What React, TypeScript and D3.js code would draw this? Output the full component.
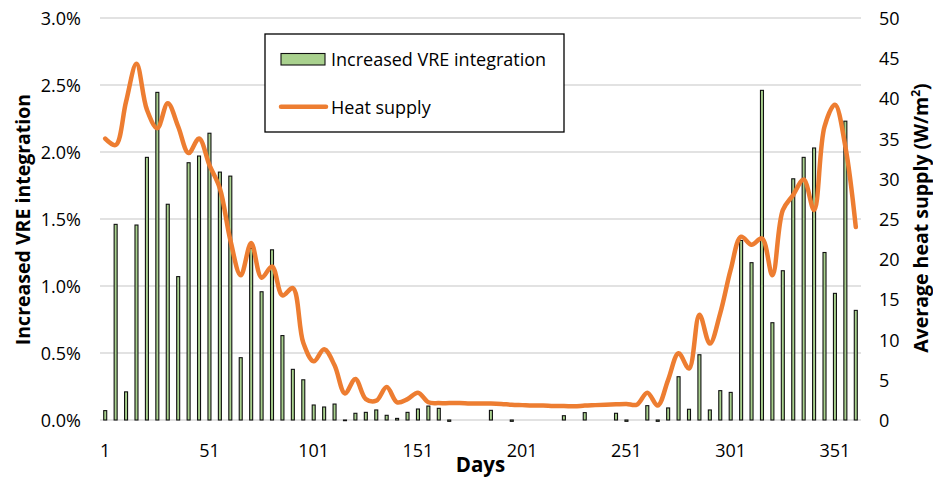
import React from "react";
import * as d3 from "d3";

const days: number[] = [
  1, 6, 11, 16, 21, 26, 31, 36, 41, 46, 51, 56, 61, 66, 71, 76, 81, 86, 91, 96,
  101, 106, 111, 116, 121, 126, 131, 136, 141, 146, 151, 156, 161, 166, 171, 176, 181, 186, 191, 196,
  201, 206, 211, 216, 221, 226, 231, 236, 241, 246, 251, 256, 261, 266, 271, 276, 281, 286, 291, 296,
  301, 306, 311, 316, 321, 326, 331, 336, 341, 346, 351, 356, 361,
];

// Increased VRE integration (%)
const vreIntegration: number[] = [
  0.07, 1.46, 0.21, 1.455, 1.96, 2.445, 1.61, 1.07, 1.92, 1.97,
  2.14, 1.85, 1.82, 0.465, 1.28, 0.957, 1.27, 0.63, 0.378, 0.3,
  0.112, 0.097, 0.119, -0.005, 0.05, 0.057, 0.075, 0.035, 0.012, 0.057,
  0.082, 0.104, 0.087, -0.01, 0, 0, 0, 0.072, 0, -0.01,
  0, 0, 0, 0, 0.032, 0, 0.055, 0, 0, 0.05,
  -0.01, 0, 0.107, -0.01, 0.09, 0.323, 0.08, 0.487, 0.075, 0.219,
  0.206, 1.34, 1.174, 2.46, 0.726, 1.114, 1.8, 1.96, 2.03, 1.25,
  0.945, 2.23, 0.818,
];

// Average heat supply (W/m²)
const heatSupply: number[] = [
  35.0, 34.2, 39.6, 44.3, 38.6, 36.3, 39.4, 36.5, 33.2, 35.0,
  31.7, 28.8, 22.4, 18.0, 22.0, 17.7, 19.1, 15.5, 16.4, 9.6,
  7.3, 8.8, 6.8, 3.3, 5.1, 2.6, 2.4, 4.1, 2.2, 2.6,
  3.4, 2.2, 2.1, 2.1, 2.1, 2.05, 2.05, 2.05, 2.0, 1.9,
  1.85, 1.8, 1.8, 1.75, 1.75, 1.7, 1.8, 1.85, 1.9, 1.95,
  2.0, 1.9, 3.4, 1.8, 5.0, 8.3, 6.4, 13.1, 9.5, 13.3,
  18.7, 22.8, 21.8, 22.6, 18.0, 26.1, 28.0, 29.9, 26.1, 36.5,
  39.2, 34.0, 24.0,
];

const xTickLabels: string[] = ["1", "51", "101", "151", "201", "251", "301", "351"];
const leftTicks: number[] = [0, 0.5, 1.0, 1.5, 2.0, 2.5, 3.0];
const rightTicks: number[] = [0, 5, 10, 15, 20, 25, 30, 35, 40, 45, 50];

const seriesNames: string[] = ["Increased VRE integration", "Heat supply"];
const axisTitles = { x: "Days", left: "Increased VRE integration", right: "Average heat supply (W/m" };

const W = 933;
const H = 485;
const M = { left: 100, right: 72, top: 18, bottom: 65 };
const FONT = "'Open Sans', 'Noto Sans', sans-serif";
const GREEN = "#a9d18e";
const ORANGE = "#ed7d31";

export default function App() {
  const x = d3
    .scaleBand<string>()
    .domain(days.map(String))
    .range([M.left, W - M.right])
    .paddingInner(0)
    .paddingOuter(0);
  const yL = d3.scaleLinear().domain([0, 3]).range([H - M.bottom, M.top]);
  const yR = d3.scaleLinear().domain([0, 50]).range([H - M.bottom, M.top]);
  const cx = (d: number) => (x(String(d)) as number) + x.bandwidth() / 2;

  const line = d3
    .line<number>()
    .x((_, i) => cx(days[i]))
    .y((v) => yR(v))
    .curve(d3.curveCatmullRom.alpha(0.5));

  const barW = 3;
  const fs = 18;
  const titleFs = 19.5;

  return (
    <svg
      width={W}
      height={H}
      style={{ position: "absolute", left: 0, top: 0, background: "#fff" }}
      fontFamily={FONT}
    >
      {leftTicks.map((t) => (
        <line
          key={"g" + t}
          x1={M.left}
          x2={W - M.right}
          y1={yL(t)}
          y2={yL(t)}
          stroke="#d9d9d9"
          strokeWidth={1.3}
        />
      ))}
      {vreIntegration.map((v, i) =>
        v === 0 ? null : (
          <rect
            key={"b" + i}
            x={cx(days[i]) - barW / 2}
            y={Math.min(yL(v), yL(0))}
            width={barW}
            height={Math.abs(yL(v) - yL(0))}
            fill={GREEN}
            stroke="#111"
            strokeWidth={1.1}
          />
        )
      )}
      <path
        d={line(heatSupply) || ""}
        fill="none"
        stroke={ORANGE}
        strokeWidth={4.5}
        strokeLinejoin="round"
        strokeLinecap="round"
      />
      {leftTicks.map((t) => (
        <text
          key={"l" + t}
          x={81}
          y={yL(t)}
          textAnchor="end"
          dominantBaseline="central"
          fontSize={fs}
          fill="#000"
        >
          {d3.format(".1%")(t / 100)}
        </text>
      ))}
      {rightTicks.map((t) => (
        <text
          key={"r" + t}
          x={879}
          y={yR(t)}
          textAnchor="start"
          dominantBaseline="central"
          fontSize={fs}
          fill="#000"
        >
          {t}
        </text>
      ))}
      {xTickLabels.map((l) => (
        <text
          key={"x" + l}
          x={cx(+l)}
          y={450}
          textAnchor="middle"
          dominantBaseline="central"
          fontSize={fs}
          fill="#000"
        >
          {l}
        </text>
      ))}
      <text
        x={(M.left + W - M.right) / 2}
        y={472}
        textAnchor="middle"
        fontSize={20.5}
        fontWeight="bold"
      >
        {axisTitles.x}
      </text>
      <text
        transform={`translate(30, ${219.5}) rotate(-90)`}
        textAnchor="middle"
        fontSize={titleFs}
        fontWeight="bold"
      >
        {axisTitles.left}
      </text>
      <text
        transform={`translate(928, ${218}) rotate(-90)`}
        textAnchor="middle"
        fontSize={titleFs}
        fontWeight="bold"
      >
        {axisTitles.right}
        <tspan baselineShift="super" fontSize={12}>2</tspan>
        <tspan>)</tspan>
      </text>
      <g>
        <rect x={265} y={34} width={299} height={98} fill="#fff" stroke="#000" strokeWidth={1.3} />
        <rect x={281} y={53.5} width={44} height={11.5} fill={GREEN} stroke="#111" strokeWidth={1.1} />
        <text x={331} y={59} dominantBaseline="central" fontSize={fs}>
          {seriesNames[0]}
        </text>
        <line x1={281} x2={326} y1={106.7} y2={106.7} stroke={ORANGE} strokeWidth={4.5} strokeLinecap="round" />
        <text x={331} y={106.7} dominantBaseline="central" fontSize={fs}>
          {seriesNames[1]}
        </text>
      </g>
    </svg>
  );
}
